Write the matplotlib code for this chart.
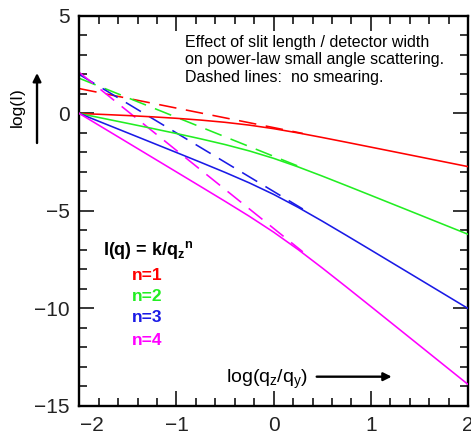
import matplotlib
matplotlib.use("Agg")
import matplotlib.pyplot as plt
import matplotlib.transforms as mtransforms
from matplotlib.ticker import MultipleLocator

plt.rcParams['font.family'] = ['Liberation Sans', 'DejaVu Sans']
plt.rcParams['mathtext.fontset'] = 'custom'
plt.rcParams['mathtext.rm'] = 'Liberation Sans'
plt.rcParams['mathtext.it'] = 'Liberation Sans'
plt.rcParams['mathtext.bf'] = 'Liberation Sans:bold'

# log(qz/qy) positions of the smeared (solid) curves
x_vals = [-2, -1.75, -1.5, -1.25, -1, -0.75, -0.5, -0.25, 0,
          0.25, 0.5, 0.75, 1, 1.25, 1.5, 1.75, 2]
smeared_n1 = [0, -0.050, -0.106, -0.171, -0.247, -0.339, -0.453, -0.597, -0.779,
              -0.995, -1.231, -1.476, -1.725, -1.974, -2.224, -2.474, -2.724]
smeared_n2 = [0, -0.255, -0.509, -0.766, -1.028, -1.302, -1.594, -1.921, -2.301,
              -2.737, -3.210, -3.701, -4.198, -4.697, -5.196, -5.696, -6.196]
smeared_n3 = [0, -0.500, -1.000, -1.501, -2.002, -2.507, -3.021, -3.560, -4.151,
              -4.810, -5.521, -6.257, -7.002, -7.751, -8.500, -9.250, -10.000]
smeared_n4 = [0, -0.750, -1.500, -2.250, -3.000, -3.751, -4.505, -5.274, -6.087,
              -6.973, -7.923, -8.904, -9.898, -10.896, -11.895, -12.895, -13.895]

# unsmeared power laws (dashed), straight lines
dash_x = [-2.0, 0.3]
pure_n1 = [1.276, -1.024]
pure_n2 = [1.804, -2.796]
pure_n3 = [2.0, -4.9]
pure_n4 = [2.105, -7.095]

labels = ["n=1", "n=2", "n=3", "n=4"]
colors = ["#ff0000", "#22ee22", "#1a1ae6", "#ff00ff"]

fig = plt.figure(figsize=(4.71, 4.38), dpi=100)
ax = fig.add_axes([0.1684, 0.0731, 0.8253, 0.8904])

for yd, c in zip([pure_n1, pure_n2, pure_n3, pure_n4], colors):
    ax.plot(dash_x, yd, color=c, lw=1.15, linestyle=(0, (11, 6)), zorder=2)
for ys, c in zip([smeared_n1, smeared_n2, smeared_n3, smeared_n4], colors):
    ax.plot(x_vals, ys, color=c, lw=1.15, zorder=3)

ax.set_xlim(-2, 2)
ax.set_ylim(-15, 5)
ax.set_xticks([-2, -1, 0, 1, 2])
ax.set_yticks([-15, -10, -5, 0, 5])
ax.xaxis.set_minor_locator(MultipleLocator(0.2))
ax.yaxis.set_minor_locator(MultipleLocator(1))
ax.tick_params(which='both', direction='in', top=True, right=True,
               width=1.1, color='k')
ax.tick_params(which='major', length=11, labelsize=15, pad=7,
               labelcolor='#222222')
ax.tick_params(which='minor', length=5.5)
for sp in ax.spines.values():
    sp.set_linewidth(1.7)

# shift the "-2" label right, away from the y labels
shift = mtransforms.ScaledTranslation(0.13, 0, fig.dpi_scale_trans)
lab = ax.get_xticklabels()[0]
lab.set_transform(lab.get_transform() + shift)

fig.text(0.3928, 0.920,
         "Effect of slit length / detector width\n"
         "on power-law small angle scattering.\n"
         "Dashed lines:  no smearing.",
         fontsize=11.5, va='top', ha='left', linespacing=1.2)

# axis labels with arrows
fig.text(0.036, 0.7557, "log(I)", rotation=90, fontsize=12.5,
         ha='center', va='center')
fig.text(0.5658, 0.1249, "log(q$_\\mathrm{z}$/q$_\\mathrm{y}$)", fontsize=14,
         ha='center', va='baseline')
ax.annotate("", xy=(0.0786, 0.8333), xytext=(0.0786, 0.6735),
            xycoords='figure fraction', textcoords='figure fraction',
            arrowprops=dict(arrowstyle='-|>', lw=1.7, color='k',
                            mutation_scale=12, shrinkA=0, shrinkB=0))
ax.annotate("", xy=(0.8316, 0.140), xytext=(0.6724, 0.140),
            xycoords='figure fraction', textcoords='figure fraction',
            arrowprops=dict(arrowstyle='-|>', lw=1.7, color='k',
                            mutation_scale=12, shrinkA=0, shrinkB=0))

# legend block
fig.text(0.2187, 0.4292, "I(q) = k/q$_\\mathbf{z}$$^\\mathbf{n}$", fontsize=13,
         fontweight='bold', ha='left', va='center')
for lbl, c, yy in zip(labels, colors, [0.3721, 0.3242, 0.2740, 0.2237]):
    fig.text(0.2796, yy, lbl, color=c, fontsize=12.5, fontweight='bold',
             ha='left', va='center')

fig.savefig("out.png", dpi=100)
